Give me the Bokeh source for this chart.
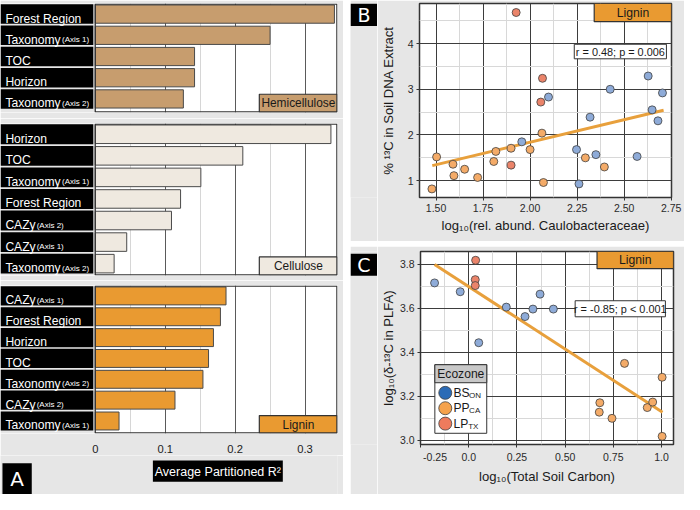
import numpy as np
from bokeh.plotting import figure
from bokeh.models import Range1d, FixedTicker, Grid, ColumnDataSource
from bokeh.layouts import row, column
from bokeh.embed import file_html
from bokeh.resources import INLINE
from bokeh.core.properties import value

# ---------------- data ----------------
hemi_vars = ["Forest Region", "Taxonomy (Axis 1)", "TOC", "Horizon", "Taxonomy (Axis 2)"]
hemi_r2 = [0.342, 0.250, 0.142, 0.142, 0.126]
cell_vars = ["Horizon", "TOC", "Taxonomy (Axis 1)", "Forest Region", "CAZy (Axis 2)",
             "CAZy (Axis 1)", "Taxonomy (Axis 2)"]
cell_r2 = [0.337, 0.211, 0.151, 0.122, 0.109, 0.045, 0.027]
lig_vars = ["CAZy (Axis 1)", "Forest Region", "Horizon", "TOC", "Taxonomy (Axis 2)",
            "CAZy (Axis 2)", "Taxonomy (Axis 1)"]
lig_r2 = [0.187, 0.179, 0.169, 0.162, 0.154, 0.114, 0.034]
r2_ticks = [0, 0.1, 0.2, 0.3]
r2_minor = [0.05, 0.15, 0.25]

groups = ["BS", "PP", "LP"]
group_subs = ["ON", "CA", "TX"]

# Panel B: log10(rel. abund. Caulobacteraceae) vs % 13C in soil DNA
b_bs_x = [1.956, 2.098, 2.247, 2.260, 2.319, 2.350, 2.426, 2.569, 2.628, 2.649, 2.680, 2.704]
b_bs_y = [1.85, 2.83, 1.68, 0.93, 2.39, 1.57, 3.00, 1.53, 3.29, 2.55, 2.31, 2.92]
b_pp_x = [1.478, 1.503, 1.590, 1.595, 1.652, 1.721, 1.807, 1.818, 1.899, 2.000, 2.063, 2.071, 2.294, 2.395]
b_pp_y = [0.82, 1.52, 1.36, 1.11, 1.25, 1.07, 1.42, 1.64, 1.71, 1.68, 2.04, 0.96, 1.50, 1.30]
b_lp_x = [1.926, 2.066, 2.057, 1.899]
b_lp_y = [4.68, 3.24, 2.72, 1.34]
b_fit_x = [1.48, 2.71]
b_fit_y = [1.33, 2.54]
b_xticks = [1.5, 1.75, 2.0, 2.25, 2.5, 2.75]
b_yticks = [1, 2, 3, 4]
b_stat = "r = 0.48; p = 0.006"

# Panel C: log10(total soil carbon) vs log10(delta 13C in PLFA)
c_bs_x = [-0.177, -0.044, 0.052, 0.195, 0.292, 0.333, 0.370, 0.439]
c_bs_y = [3.716, 3.676, 3.444, 3.606, 3.563, 3.597, 3.665, 3.597]
c_pp_x = [0.808, 0.680, 0.677, 0.743, 0.926, 0.954, 1.003, 1.003]
c_pp_y = [3.350, 3.171, 3.128, 3.100, 3.149, 3.174, 3.287, 3.018]
c_lp_x = [0.036, 0.034, 0.034]
c_lp_y = [3.819, 3.731, 3.704]
c_fit_x = [-0.177, 1.005]
c_fit_y = [3.80, 3.128]
c_xticks = [-0.25, 0.0, 0.25, 0.5, 0.75, 1.0]
c_yticks = [3.0, 3.2, 3.4, 3.6, 3.8]
c_stat = "r = -0.85; p < 0.001"

# ---------------- style ----------------
SX = 684 / 700
SY = 494 / 510


def fs(v):
    return f"{v * 0.975:.1f}px"


FONT = "Liberation Sans"
LETTER_FONT = "DejaVu Sans"
GRAY = "#e6e6e6"
DARK = "#333333"
HEMI_C = "#c79d6e"
CELL_C = "#efe9e0"
LIG_C = "#e99a31"
PT_COLORS = ["#8eabd8", "#f4ab68", "#eb846a"]
LEG_COLORS = ["#2b6bb6", "#f5a24c", "#ee7b5d"]
FIT_C = "#e8a03c"
SUFFIX_OFFSET = {"Taxonomy": 63, "CAZy": 37}

XS, XE = -0.1355, 0.3464
TAG_L = 0.2346


def split_label(s):
    if " (" in s:
        a, b = s.split(" (", 1)
        return a, "(" + b
    return s, ""


def plain_fig(w, h, xr, yr, **kw):
    p = figure(width=w, height=h, x_range=xr, y_range=yr, x_axis_location=None,
               y_axis_location=None, output_backend="svg", toolbar_location=None, **kw)
    p.background_fill_color = GRAY
    p.border_fill_color = GRAY
    p.outline_line_color = None
    p.xgrid.visible = False
    p.ygrid.visible = False
    return p


def bar_panel(names, vals, color, tag, h, top, bottom, ylo, axis):
    frame_h = h - top - bottom
    frame_w = 337
    p = figure(width=343, height=h, x_range=Range1d(XS, XE), y_range=Range1d(ylo, 0),
               x_axis_location="below" if axis else None, y_axis_location=None,
               min_border_left=0, min_border_right=6, min_border_top=top,
               min_border_bottom=bottom, output_backend="svg", toolbar_location=None)
    p.background_fill_color = "white"
    p.border_fill_color = GRAY
    p.outline_line_color = None
    p.xgrid.visible = False
    p.ygrid.visible = False
    ex = 0.6 * (XE - XS) / frame_w
    ey = 0.6 * ylo / frame_h

    g = Grid(dimension=0, ticker=FixedTicker(ticks=r2_ticks[1:], minor_ticks=r2_minor),
             grid_line_color="#5a5a5a", grid_line_width=1,
             minor_grid_line_color="#d6d6d6", minor_grid_line_width=1)
    p.add_layout(g, "center")

    n = len(names)
    rows = [i + 0.5 for i in range(n)]
    mains, subs = zip(*[split_label(s) for s in names])
    src = ColumnDataSource(dict(y=rows, val=vals, main=list(mains), sub=list(subs),
                                off=[SUFFIX_OFFSET.get(m, 0) * SX for m in mains]))

    p.quad(left=XS, right=0, top=0, bottom=ylo, fill_color=GRAY, line_color=None)
    p.hbar(y="y", left=XS, right=-0.0028, height=0.92, source=src,
           fill_color="black", line_color=None)
    p.hbar(y="y", left=0, right="val", height=0.86, source=src,
           fill_color=color, line_color="#4a4a4a", line_width=1)
    p.quad(left=0, right=XE - ex, top=ey, bottom=ylo - ey, fill_color=None,
           line_color=DARK, line_width=1.3)
    p.quad(left=TAG_L, right=XE - ex, top=ylo - 0.86, bottom=ylo - ey,
           fill_color=color, line_color=DARK, line_width=1.2)
    p.text(x=(TAG_L + XE) / 2, y=ylo - 0.43, text=[tag], text_align="center",
           text_baseline="middle", text_font=value(FONT), text_font_size=fs(12.2),
           text_color="#1a1a1a")
    p.text(x=XS, y="y", text="main", source=src, x_offset=5 * SX, y_offset=4.5,
           text_font=value(FONT), text_font_size=fs(12.4), text_color="white",
           text_baseline="alphabetic")
    p.text(x=XS, y="y", text="sub", source=src, x_offset="off", y_offset=4.5,
           text_font=value(FONT), text_font_size=fs(8.2), text_color="white",
           text_baseline="alphabetic")

    if axis:
        ax = p.xaxis[0]
        ax.ticker = FixedTicker(ticks=r2_ticks)
        ax.major_label_overrides = {t: (f"{t:g}") for t in r2_ticks}
        ax.axis_line_color = None
        ax.major_tick_line_color = None
        ax.minor_tick_line_color = None
        ax.major_label_standoff = 5
        ax.major_label_text_font = FONT
        ax.major_label_text_font_size = fs(11.5)
        ax.major_label_text_color = "#222222"
    return p


p_hemi = bar_panel(hemi_vars, hemi_r2, HEMI_C, "Hemicellulose", 118, 3, 6, 5.14, False)
p_cell = bar_panel(cell_vars, cell_r2, CELL_C, "Cellulose", 162, 5, 5, 7.05, False)
p_lig = bar_panel(lig_vars, lig_r2, LIG_C, "Lignin", 175, 5, 18, 7.1, True)

# footer of panel A: axis title box and panel letter
p_foot = plain_fig(343, 39, p_lig.x_range, Range1d(40, 0), min_border_left=0,
                   min_border_right=6, min_border_top=0, min_border_bottom=0)
p_foot.quad(left=0.0824, right=0.2682, top=5, bottom=27, fill_color="black", line_color=None)
p_foot.text(x=0.1753, y=16.5, text=["Average Partitioned R²"], text_align="center",
            text_baseline="middle", text_font=value(FONT), text_font_size=fs(12.8),
            text_color="white")
p_foot.quad(left=-0.1327, right=-0.0908, top=8, bottom=40, fill_color="black", line_color=None)
p_foot.text(x=-0.1118, y=24.5, text=["A"], text_align="center", text_baseline="middle",
            text_font=value(LETTER_FONT), text_font_size="20px", text_color="white")


def letter_strip(letter, h, top, bottom):
    s = plain_fig(27, h, Range1d(0, 1), Range1d(h, 0), min_border_left=0,
                  min_border_right=0, min_border_top=0, min_border_bottom=0)
    s.quad(left=0, right=1, top=top, bottom=bottom, fill_color="black", line_color=None)
    s.text(x=0.5, y=(top + bottom) / 2, text=[letter], text_align="center",
           text_baseline="middle", text_font=value(LETTER_FONT), text_font_size="19px",
           text_color="white")
    return s


def scatter_panel(h, xr, yr, bl, br, bt, bb, xt, xminor, xlab_over, yt, yminor, ylab_over,
                  xlabel, ylabel, ylab_standoff):
    p = figure(width=307, height=h, x_range=Range1d(*xr), y_range=Range1d(*yr),
               min_border_left=bl, min_border_right=br, min_border_top=bt,
               min_border_bottom=bb, output_backend="svg", toolbar_location=None)
    p.background_fill_color = "white"
    p.border_fill_color = GRAY
    p.outline_line_color = DARK
    p.outline_line_width = 1.5
    p.xaxis.ticker = FixedTicker(ticks=xt, minor_ticks=xminor)
    p.yaxis.ticker = FixedTicker(ticks=yt, minor_ticks=yminor)
    p.xaxis.major_label_overrides = xlab_over
    p.yaxis.major_label_overrides = ylab_over
    for ax in (p.xaxis[0], p.yaxis[0]):
        ax.axis_line_color = None
        ax.major_tick_out = 3
        ax.major_tick_in = 0
        ax.major_tick_line_color = DARK
        ax.minor_tick_line_color = None
        ax.major_label_standoff = 2
        ax.major_label_text_font = FONT
        ax.major_label_text_font_size = fs(10.8)
        ax.major_label_text_color = "#2a2a2a"
        ax.axis_label_text_font = FONT
        ax.axis_label_text_font_style = "normal"
        ax.axis_label_text_font_size = fs(13.4)
        ax.axis_label_text_color = "#1a1a1a"
    p.xaxis.axis_label = xlabel
    p.yaxis.axis_label = ylabel
    p.xaxis.axis_label_standoff = 3
    p.yaxis.axis_label_standoff = ylab_standoff
    for g in (p.xgrid[0], p.ygrid[0]):
        g.grid_line_color = "#3d3d3d"
        g.grid_line_width = 1
        g.minor_grid_line_color = "#d8d8d8"
        g.minor_grid_line_width = 1
    return p


# ---- Panel B ----
pB = scatter_panel(241, (1.412, 2.752), (0.632, 4.877), 36, 13, 3, 44,
                   b_xticks, [1.625, 1.875, 2.125, 2.375, 2.625],
                   {t: f"{t:.2f}" for t in b_xticks},
                   b_yticks, [1.5, 2.5, 3.5, 4.5], {t: f"{t:g}" for t in b_yticks},
                   "log\u2081\u2080(rel. abund. Caulobacteraceae)",
                   "% \u00b9\u00b3C in Soil DNA Extract", 9)
pB.line(b_fit_x, b_fit_y, line_width=3, line_color=FIT_C)
for xs, ys, c in ((b_bs_x, b_bs_y, PT_COLORS[0]), (b_pp_x, b_pp_y, PT_COLORS[1]),
                  (b_lp_x, b_lp_y, PT_COLORS[2])):
    pB.scatter(xs, ys, size=8, marker="circle", fill_color=c, line_color="#404040",
               line_width=0.8)
pB.quad(left=2.341, right=2.752, top=4.877, bottom=4.48, fill_color=LIG_C,
        line_color=DARK, line_width=1.2)
pB.text(x=2.547, y=4.68, text=["Lignin"], text_align="center", text_baseline="middle",
        text_font=value(FONT), text_font_size=fs(12.5), text_color="#1a1a1a")
pB.quad(left=2.235, right=2.725, top=3.985, bottom=3.667, fill_color="white",
        line_color=DARK, line_width=1)
pB.text(x=2.48, y=3.826, text=[b_stat], text_align="center", text_baseline="middle",
        text_font=value(FONT), text_font_size=fs(11.2), text_color="#1a1a1a")
sB = letter_strip("B", 241, 0, 28)

# ---- Panel C ----
c_xover = {t: f"{t:.2f}" for t in c_xticks}
c_xover[-0.25] = "\u00a0" * 10 + "-0.25"
c_xover[0.0] = "0.0"
c_xover[1.0] = "1.0"
pC = scatter_panel(248, (-0.25, 1.062), (2.981, 3.859), 36, 11, 5, 50,
                   c_xticks, [-0.125, 0.125, 0.375, 0.625, 0.875], c_xover,
                   c_yticks, [3.1, 3.3, 3.5, 3.7], {t: f"{t:.1f}" for t in c_yticks},
                   "log\u2081\u2080(Total Soil Carbon)",
                   "log\u2081\u2080(\u03b4-\u00b9\u00b3C in PLFA)", 1)
pC.line(c_fit_x, c_fit_y, line_width=3, line_color=FIT_C)
for xs, ys, c in ((c_bs_x, c_bs_y, PT_COLORS[0]), (c_pp_x, c_pp_y, PT_COLORS[1]),
                  (c_lp_x, c_lp_y, PT_COLORS[2])):
    pC.scatter(xs, ys, size=8, marker="circle", fill_color=c, line_color="#404040",
               line_width=0.8)
pC.quad(left=0.6655, right=1.062, top=3.859, bottom=3.781, fill_color=LIG_C,
        line_color=DARK, line_width=1.2)
pC.text(x=0.864, y=3.82, text=["Lignin"], text_align="center", text_baseline="middle",
        text_font=value(FONT), text_font_size=fs(12.5), text_color="#1a1a1a")
pC.quad(left=0.552, right=1.02, top=3.635, bottom=3.562, fill_color="white",
        line_color=DARK, line_width=1)
pC.text(x=0.786, y=3.5985, text=[c_stat], text_align="center", text_baseline="middle",
        text_font=value(FONT), text_font_size=fs(11.2), text_color="#1a1a1a")

# legend (drawn in panel C)
pC.quad(left=-0.1756, right=0.0935, top=3.344, bottom=3.032, fill_color="white",
        line_color=DARK, line_width=1)
pC.quad(left=-0.1756, right=0.0935, top=3.344, bottom=3.262, fill_color="#c8c8c8",
        line_color=DARK, line_width=1)
pC.text(x=-0.041, y=3.303, text=["Ecozone"], text_align="center", text_baseline="middle",
        text_font=value(FONT), text_font_size=fs(12.4), text_color="#1a1a1a")
leg_y = [3.216, 3.146, 3.076]
leg_src = ColumnDataSource(dict(y=leg_y, c=LEG_COLORS, g=groups, s=group_subs,
                                off=[16 * SX, 16 * SX, 15 * SX]))
pC.scatter(x=-0.1215, y="y", source=leg_src, size=13, marker="circle", fill_color="c",
           line_color="#404040", line_width=0.8)
pC.text(x=-0.079, y="y", text="g", source=leg_src, text_baseline="middle",
        text_font=value(FONT), text_font_size=fs(12.4), text_color="#1a1a1a")
pC.text(x=-0.079, y="y", text="s", source=leg_src, x_offset="off", y_offset=2.5,
        text_baseline="middle", text_font=value(FONT), text_font_size=fs(8.2),
        text_color="#1a1a1a")
sC = letter_strip("C", 248, 3, 31)

layout = row(column(p_hemi, p_cell, p_lig, p_foot, spacing=0),
             column(row(sB, pB, spacing=0), row(sC, pC, spacing=0), spacing=5), spacing=7)

open("out.html", "w").write(file_html(layout, INLINE))
